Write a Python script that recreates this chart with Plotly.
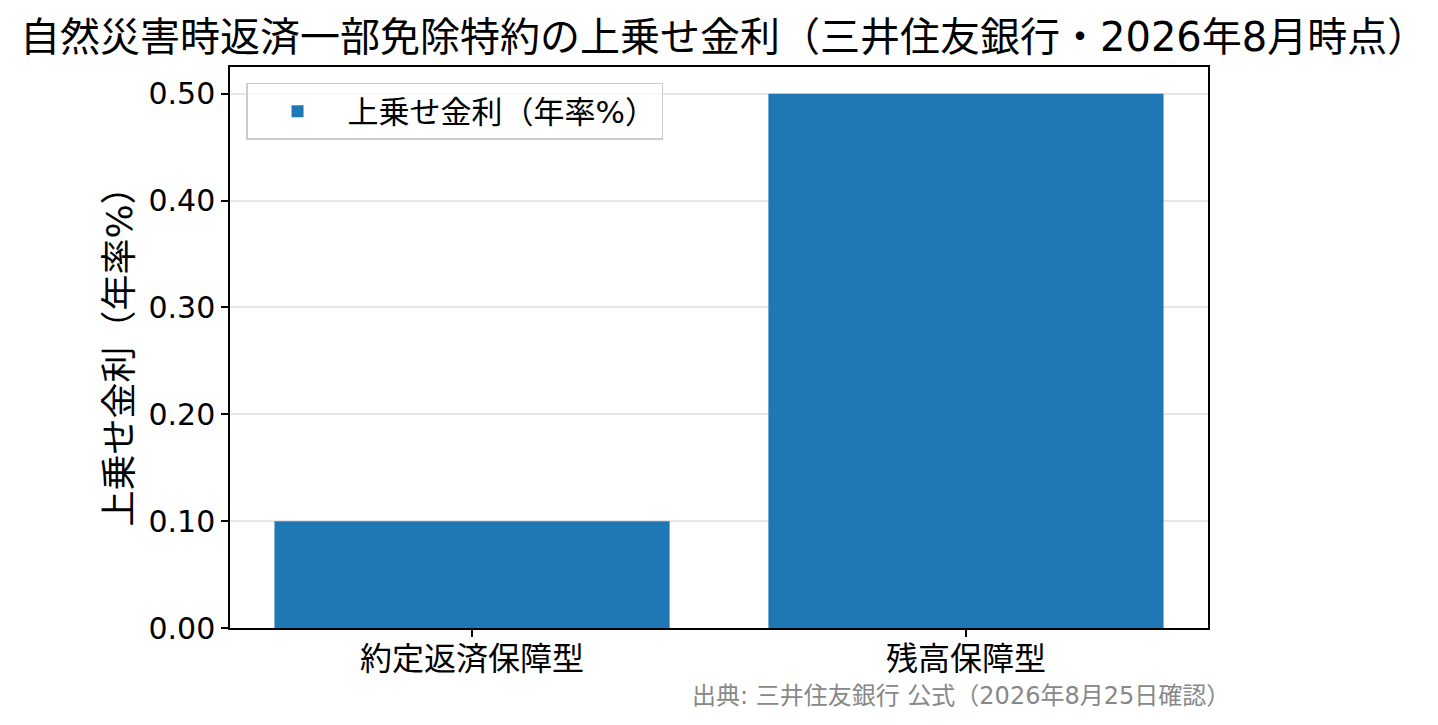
import plotly.graph_objects as go

# 自然災害時返済一部免除特約の上乗せ金利
CATEGORIES = ["約定返済保障型", "残高保障型"]
RATES = [0.10, 0.50]
SERIES_NAME = "上乗せ金利（年率%）"
Y_TICKS = [0.0, 0.1, 0.2, 0.3, 0.4, 0.5]

TITLE = "自然災害時返済一部免除特約の上乗せ金利（三井住友銀行・2026年8月時点）"
SOURCE = "出典: 三井住友銀行 公式（2026年8月25日確認）"

FONT = "DejaVu Sans, Noto Sans CJK JP"

fig = go.Figure()
fig.add_trace(go.Bar(
    x=CATEGORIES,
    y=RATES,
    name=SERIES_NAME,
    width=0.8,
    marker=dict(color="#1f77b4", line=dict(width=0)),
    showlegend=True,
))

# the page puts the figure 8px in from the top-left corner
fig.update_layout(
    width=1430,
    height=717,
    paper_bgcolor="white",
    plot_bgcolor="white",
    font=dict(family=FONT, color="black", size=26),
    margin=dict(l=222, r=230, t=59, b=97),
    title=dict(
        text=TITLE,
        x=0.0084, xanchor="left",
        y=0.96, yanchor="middle",
        font=dict(size=40, color="black"),
    ),
    legend=dict(
        x=0.0164, y=0.9715, xanchor="left", yanchor="top",
        bgcolor="rgba(255,255,255,0.8)",
        bordercolor="#cccccc", borderwidth=1.5,
        font=dict(size=31),
        itemwidth=90,
    ),
    showlegend=True,
)

fig.update_xaxes(
    range=[-0.49, 1.49],
    showline=True, linecolor="black", linewidth=1.5, mirror=True,
    ticks="outside", ticklen=7, tickcolor="black", tickwidth=1.5,
    ticklabelstandoff=-5,
    showgrid=False,
    tickfont=dict(size=32),
)

fig.update_yaxes(
    range=[0, 0.525],
    tickvals=Y_TICKS,
    tickformat=".2f",
    showline=True, linecolor="black", linewidth=1.5, mirror=True,
    ticks="outside", ticklen=7, tickcolor="black", tickwidth=1.5,
    showgrid=True, gridcolor="rgba(176,176,176,0.3)", gridwidth=1.5,
    layer="above traces",
    zeroline=False,
    tickfont=dict(size=30),
    title=dict(text=SERIES_NAME, font=dict(size=36), standoff=5),
)

fig.add_annotation(
    text=SOURCE,
    xref="paper", yref="paper",
    x=1.0245, y=-0.121,
    xanchor="right", yanchor="middle",
    showarrow=False,
    font=dict(size=24, color="#888888"),
)

fig.write_html("out.html")
